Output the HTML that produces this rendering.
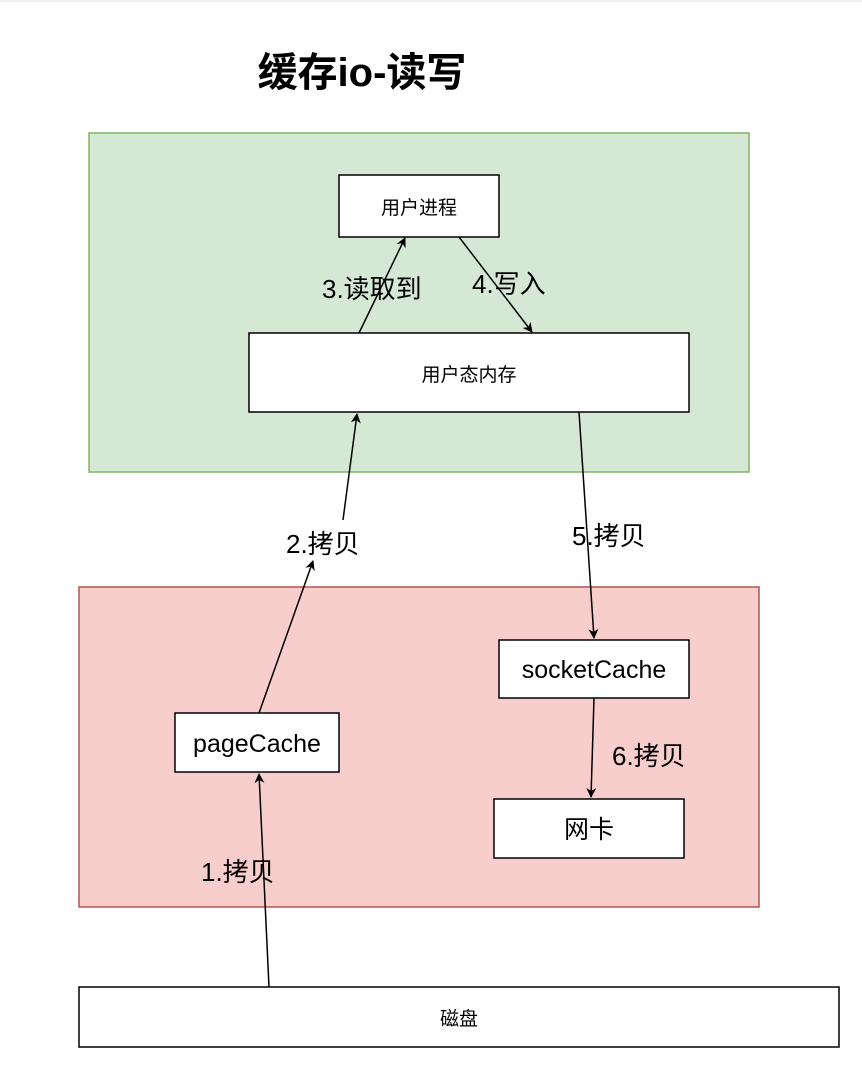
<!DOCTYPE html>
<html><head><meta charset="utf-8"><style>
html,body{margin:0;padding:0;background:#fff;}
text{font-family:"Liberation Sans","Noto Sans CJK SC",sans-serif;}
</style></head><body>
<svg width="862" height="1072" viewBox="0 0 862 1072" xmlns="http://www.w3.org/2000/svg">
<defs><marker id="a" markerWidth="10" markerHeight="10" refX="9" refY="5" orient="auto" markerUnits="userSpaceOnUse"><path d="M0,0 L10,5 L0,10 L3,5 Z" fill="#000"/></marker></defs>
<line x1="0" y1="1" x2="862" y2="1" stroke="#ddd"/>
<text x="362" y="86" font-size="40" font-weight="bold" text-anchor="middle">缓存io-读写</text>
<rect x="89" y="133" width="660" height="339" fill="#d5e8d4" stroke="#82b366" stroke-width="1.5"/>
<rect x="79" y="587" width="680" height="320" fill="#f8cecc" stroke="#b85450" stroke-width="1.5"/>
<rect x="339" y="175" width="160" height="62" fill="#fff" stroke="#000" stroke-width="1.5"/>
<text x="419" y="214" font-size="19" text-anchor="middle">用户进程</text>
<rect x="249" y="333" width="440" height="79" fill="#fff" stroke="#000" stroke-width="1.5"/>
<text x="469" y="381" font-size="19" text-anchor="middle">用户态内存</text>
<rect x="499" y="640" width="190" height="58" fill="#fff" stroke="#000" stroke-width="1.5"/>
<text x="594" y="678" font-size="25" text-anchor="middle">socketCache</text>
<rect x="175" y="713" width="164" height="59" fill="#fff" stroke="#000" stroke-width="1.5"/>
<text x="257" y="752" font-size="25" text-anchor="middle">pageCache</text>
<rect x="494" y="799" width="190" height="59" fill="#fff" stroke="#000" stroke-width="1.5"/>
<text x="589" y="838" font-size="25" text-anchor="middle">网卡</text>
<rect x="79" y="987" width="760" height="60" fill="#fff" stroke="#000" stroke-width="1.5"/>
<text x="459" y="1025" font-size="19" text-anchor="middle">磁盘</text>
<g stroke="#000" stroke-width="1.5" fill="none" marker-end="url(#a)">
<line x1="269" y1="987" x2="259" y2="774"/>
<line x1="259" y1="713" x2="313" y2="561"/>
<line x1="343" y1="520" x2="357" y2="414"/>
<line x1="359" y1="333" x2="405" y2="238"/>
<line x1="459" y1="237" x2="532" y2="332"/>
<line x1="579" y1="412" x2="594" y2="638"/>
<line x1="594" y1="698" x2="591" y2="797"/>
</g>
<g font-size="26">
<text x="322" y="298">3.读取到</text>
<text x="472" y="293">4.写入</text>
<text x="286" y="553">2.拷贝</text>
<text x="572" y="545">5.拷贝</text>
<text x="612" y="765">6.拷贝</text>
<text x="201" y="881">1.拷贝</text>
</g>
</svg>
</body></html>
